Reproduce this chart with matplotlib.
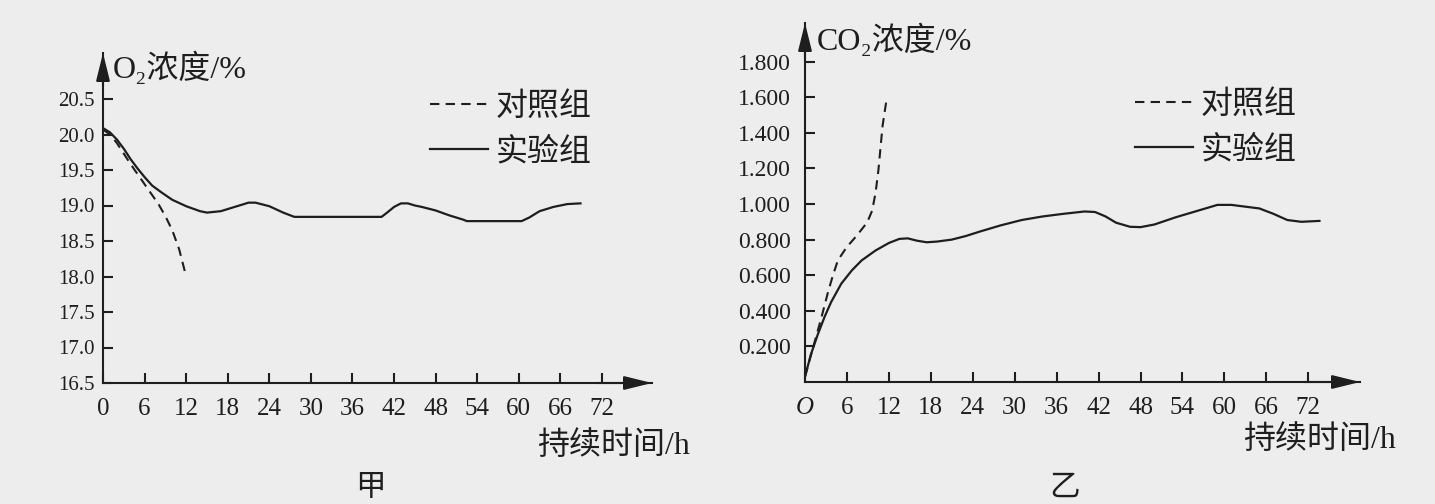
import matplotlib
matplotlib.use('Agg')
import matplotlib.pyplot as plt

# O2 chart (甲)
ctrl_o2_t = [0, 1, 2, 3, 4, 5, 6, 7, 8, 9, 10, 11, 12]
ctrl_o2 = [20.07, 20.0, 19.88, 19.73, 19.58, 19.44, 19.3, 19.16, 19.02, 18.85, 18.65, 18.38, 18.0]
exp_o2_t = [0, 1, 2, 3, 4, 5, 6, 7.1, 8.5, 10, 12, 14, 15, 17, 19, 21, 22, 24, 26, 27.6,
            40.2, 41, 42, 43, 44, 45, 46, 48, 50, 52, 52.5, 60.4, 61.5, 63, 65, 67, 68.9]
exp_o2 = [20.09, 20.03, 19.93, 19.8, 19.65, 19.52, 19.4, 19.28, 19.18, 19.08, 18.99, 18.92,
          18.9, 18.92, 18.98, 19.04, 19.04, 18.99, 18.9, 18.84,
          18.84, 18.9, 18.98, 19.03, 19.03, 19.0, 18.98, 18.93, 18.86, 18.8, 18.78,
          18.78, 18.83, 18.92, 18.98, 19.02, 19.03]
o2_yticks = [16.5, 17.0, 17.5, 18.0, 18.5, 19.0, 19.5, 20.0, 20.5]

# CO2 chart (乙)
ctrl_co2_t = [0, 1.2, 2.05, 2.5, 3.3, 4.0, 4.7, 5.95, 7.4, 8.9, 9.6, 10.1, 10.5, 11.1, 11.6]
ctrl_co2 = [0.03, 0.2, 0.32, 0.385, 0.506, 0.6, 0.683, 0.757, 0.822, 0.897, 0.962, 1.064,
            1.19, 1.44, 1.57]
exp_co2_t = [0, 0.83, 1.8, 2.8, 3.75, 5.2, 6.7, 8.1, 10.1, 12, 13.5, 14.7, 16, 17.4, 18.9,
             21, 23, 25, 28, 31, 34, 37, 40, 41.5, 43, 44.5, 46.5, 48, 50, 53, 56, 59, 61,
             63, 65, 67, 69, 71, 73.6]
exp_co2 = [0.03, 0.153, 0.264, 0.366, 0.45, 0.553, 0.627, 0.683, 0.739, 0.781, 0.804,
           0.807, 0.794, 0.785, 0.789, 0.80, 0.82, 0.845, 0.88, 0.91, 0.93, 0.945, 0.958,
           0.955, 0.93, 0.895, 0.872, 0.87, 0.885, 0.925, 0.96, 0.995, 0.995, 0.985, 0.975,
           0.945, 0.91, 0.9, 0.905]
co2_yticks = [0.2, 0.4, 0.6, 0.8, 1.0, 1.2, 1.4, 1.6, 1.8]

hours = list(range(0, 73, 6))
o2_xlabels = [str(h) for h in hours]
co2_xlabels = ['O'] + [str(h) for h in hours[1:]]

ink = '#1e1e1e'
bg = '#ededed'
fams = ['Liberation Serif', 'Noto Sans CJK SC', 'DejaVu Sans']
plt.rcParams['font.family'] = fams
plt.rcParams['text.color'] = ink

W, H = 1435, 504
fig = plt.figure(figsize=(W / 100, H / 100), dpi=100, facecolor=bg)


def px_axes(left, right, top, bottom):
    return fig.add_axes([left / W, 1 - bottom / H, (right - left) / W, (bottom - top) / H])


def style(ax, ypad, ysize):
    ax.set_facecolor('none')
    for s in ['top', 'right']:
        ax.spines[s].set_visible(False)
    for s in ['left', 'bottom']:
        ax.spines[s].set_linewidth(1.5)
        ax.spines[s].set_color(ink)
    ax.tick_params(axis='both', direction='in', length=7, width=1.5, color=ink,
                   labelcolor=ink)
    ax.tick_params(axis='x', pad=11, labelsize=18)
    ax.tick_params(axis='y', pad=ypad, labelsize=ysize)
    arr = dict(arrowstyle='-|>,head_length=1.7,head_width=0.42', color=ink, lw=1.5,
               shrinkA=0, shrinkB=0, mutation_scale=10)
    ax.annotate('', xy=(1, 0), xytext=(0.9, 0), xycoords='axes fraction', arrowprops=arr)
    ax.annotate('', xy=(0, 1), xytext=(0, 0.9), xycoords='axes fraction', arrowprops=arr)


leg_kw = dict(loc='upper left', bbox_transform=fig.transFigure, frameon=False, fontsize=23,
              handlelength=1.8, handletextpad=0.25, labelspacing=0.5, borderpad=0,
              borderaxespad=0)

# left panel
ax1 = px_axes(103, 652, 53, 383)
ax1.plot(exp_o2_t, exp_o2, color=ink, lw=1.6, label='实验组')
ax1.plot(ctrl_o2_t, ctrl_o2, color=ink, lw=1.5, ls=(0, (4.5, 3)), label='对照组')
ax1.set_xlim(0, (652 - 103) / 6.93)
ax1.set_ylim(16.5, 16.5 + 330 / 71.0)
ax1.set_xticks(hours)
ax1.set_xticklabels(o2_xlabels)
ax1.set_yticks(o2_yticks)
ax1.set_yticklabels(['%.1f' % v for v in o2_yticks])
style(ax1, 6, 15)
h1, l1 = ax1.get_legend_handles_labels()
ax1.legend(h1[::-1], l1[::-1], bbox_to_anchor=(430 / W, 1 - 92 / H), **leg_kw)
fig.text(113 / W, 1 - 68 / H, 'O₂浓度/%', fontsize=23, va='center', ha='left')
fig.text(537 / W, 1 - 446 / H, '持续时间/h', fontsize=23, va='center', ha='left')
fig.text(370 / W, 1 - 503 / H, '甲', fontsize=22, va='bottom', ha='center')

# right panel
ax2 = px_axes(805, 1360, 23, 382)
ax2.plot(exp_co2_t, exp_co2, color=ink, lw=1.6, label='实验组')
ax2.plot(ctrl_co2_t, ctrl_co2, color=ink, lw=1.5, ls=(0, (4.5, 3)), label='对照组')
ax2.set_xlim(0, (1360 - 805) / 6.99)
ax2.set_ylim(0, 359 / 178.0)
ax2.set_xticks(hours)
ax2.set_xticklabels(co2_xlabels)
ax2.get_xticklabels()[0].set_style('italic')
ax2.set_yticks(co2_yticks)
ax2.set_yticklabels(['%.3f' % v for v in co2_yticks])
style(ax2, 10, 17)
h2, l2 = ax2.get_legend_handles_labels()
ax2.legend(h2[::-1], l2[::-1], bbox_to_anchor=(1135 / W, 1 - 90 / H), **leg_kw)
fig.text(817 / W, 1 - 40 / H, 'CO₂浓度/%', fontsize=23, va='center', ha='left')
fig.text(1243 / W, 1 - 440 / H, '持续时间/h', fontsize=23, va='center', ha='left')
fig.text(1065 / W, 1 - 503 / H, '乙', fontsize=22, va='bottom', ha='center')

fig.savefig('out.png', dpi=100, facecolor=bg)
